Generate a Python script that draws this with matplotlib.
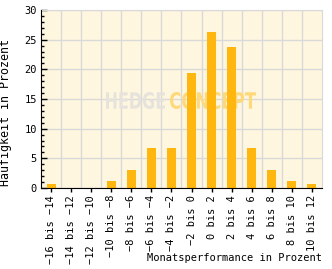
import numpy as np
import matplotlib
matplotlib.use("Agg")
import matplotlib.pyplot as plt
from matplotlib.ticker import MultipleLocator
from matplotlib.textpath import TextPath
from matplotlib.patches import PathPatch
from matplotlib.font_manager import FontProperties
from matplotlib.transforms import Affine2D, IdentityTransform

# Monthly performance distribution
categories = ["\u221216 bis \u221214", "\u221214 bis \u221212", "\u221212 bis \u221210",
              "\u221210 bis \u22128", "\u22128 bis \u22126", "\u22126 bis \u22124",
              "\u22124 bis \u22122", "\u22122 bis 0", "0 bis 2", "2 bis 4",
              "4 bis 6", "6 bis 8", "8 bis 10", "10 bis 12"]
values = [0.6, 0.0, 0.0, 1.1, 3.1, 6.8, 6.8, 19.4, 26.3, 23.8, 6.8, 3.1, 1.1, 0.6]

plt.rcParams['font.family'] = ['DejaVu Sans Mono']
plt.rcParams['font.size'] = 7.5

fig = plt.figure(figsize=(3.32, 2.69), dpi=100)
ax = fig.add_axes([41 / 332, 1 - 188 / 269, 281 / 332, 178 / 269])
ax.set_facecolor('#fff6df')

x = np.arange(len(categories))
ax.bar(x, values, width=0.45, color='#ffb60f', zorder=3)

ax.set_xlim(-0.5, len(categories) - 0.5)
ax.set_ylim(0, 30)

# grid: vertical at category boundaries, horizontal every 5
for b in np.arange(0.5, len(categories) - 0.5, 1):
    ax.axvline(b, color='#d9d9d9', lw=1, zorder=1)
ax.yaxis.set_major_locator(MultipleLocator(5))
ax.yaxis.set_minor_locator(MultipleLocator(1))
ax.grid(axis='y', which='major', color='#d9d9d9', lw=1, zorder=1)

ax.set_xticks(x)
ax.set_xticklabels(categories, rotation=90)
ax.tick_params(axis='x', direction='out', length=3, width=1, pad=2)
ax.tick_params(axis='y', which='major', direction='in', length=4, width=1, pad=3)
ax.tick_params(axis='y', which='minor', direction='in', length=2.5, width=1)

for s in ['top', 'right']:
    ax.spines[s].set_color('#d9d9d9')
for s in ['left', 'bottom']:
    ax.spines[s].set_color('black')
    ax.spines[s].set_zorder(4)


# watermark, squeezed into a pixel box (left, bottom, right, top)
def watermark(word, box, color):
    tp = TextPath((0, 0), word, size=10, prop=FontProperties(family='DejaVu Sans', weight='bold'))
    ext = tp.get_extents()
    x0, y0, x1, y1 = box
    tr = (Affine2D().translate(-ext.x0, -ext.y0)
          .scale((x1 - x0) / ext.width, (y1 - y0) / ext.height)
          .translate(x0, y0))
    ax.add_patch(PathPatch(tr.transform_path(tp), transform=IdentityTransform(),
                           facecolor=color, edgecolor='none', zorder=2))


watermark("HEDGE", (106, 160, 165, 177), '#e6e3dc')
watermark("CONCEPT", (170, 160, 256, 177), '#ffd87a')

fig.text(322 / 332, 1 - 258 / 269, "Monatsperformance in Prozent", ha='right', va='center')
fig.text(6 / 332, 1 - 113 / 269, "H\u00e4ufigkeit in Prozent", rotation=90,
         ha='center', va='center', fontsize=8.4)

fig.savefig("out.png", dpi=100)
